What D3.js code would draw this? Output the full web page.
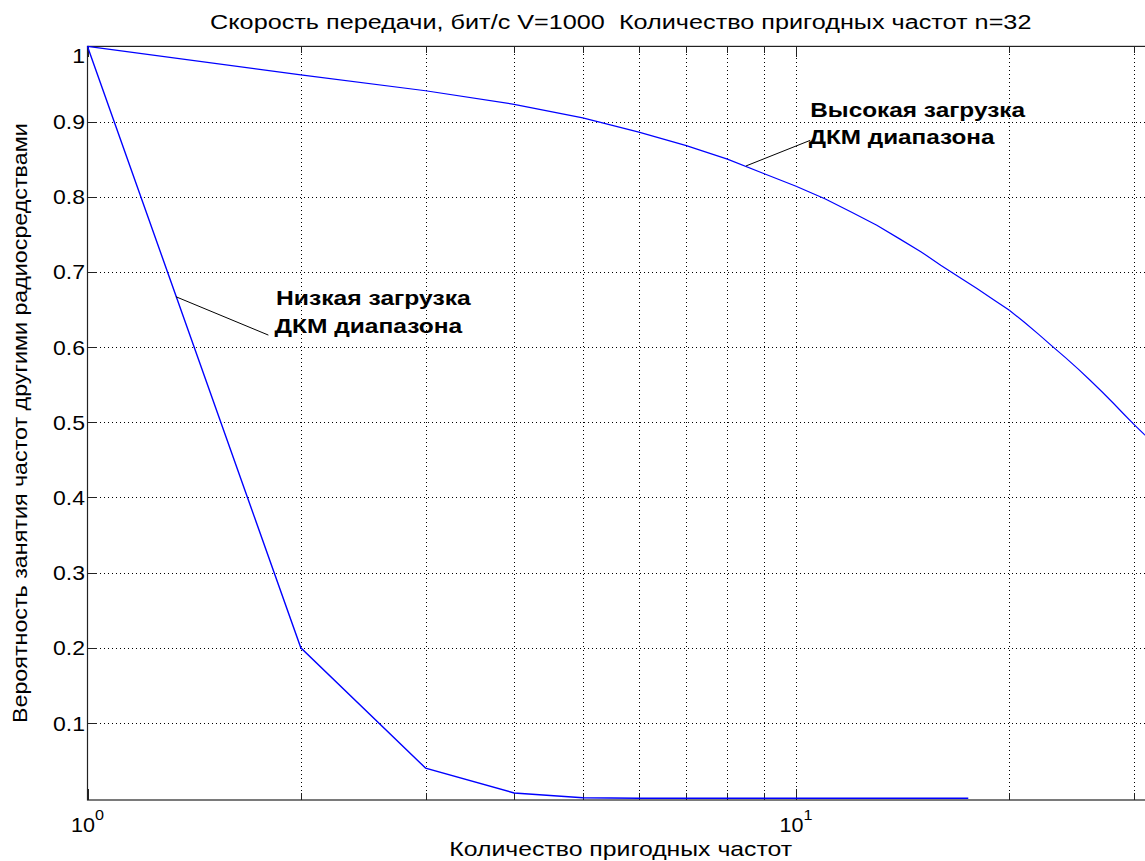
<!DOCTYPE html>
<html>
<head>
<meta charset="utf-8">
<script src="https://cdn.jsdelivr.net/npm/d3@7"></script>
<style>
  html, body { margin: 0; padding: 0; background: #fff; overflow: hidden; }
  svg { display: block; font-family: "Liberation Sans", Arial, sans-serif; }
  text { white-space: pre; }
</style>
</head>
<body>
<svg id="chart" width="1145" height="861"></svg>
<script>
// Number of usable frequencies (x) for both load scenarios
const freqHigh = [1, 2, 3, 4, 5, 6, 7, 8, 9, 10, 11, 12, 13, 14, 15, 16,
                  17, 18, 19, 20, 21, 22, 23, 24, 25, 26, 27, 28, 29, 30, 31, 32];
// Probability that a frequency is occupied — high HF band load
const probHigh = [1.000, 0.962, 0.941, 0.923, 0.905, 0.886, 0.868, 0.850, 0.831, 0.814,
                  0.797, 0.779, 0.762, 0.744, 0.727, 0.709, 0.693, 0.678, 0.663, 0.649,
                  0.633, 0.617, 0.601, 0.586, 0.571, 0.556, 0.541, 0.526, 0.511, 0.497,
                  0.484, 0.472];
// Low HF band load
const freqLow = [1, 2, 3, 4, 5, 6, 7, 8, 9, 10, 11, 12, 13, 14, 15, 16, 17, 17.5];
const probLow = [1.000, 0.200, 0.040, 0.007, 0.0005, 0, 0, 0, 0, 0,
                 0, 0, 0, 0, 0, 0, 0, 0];

const xMajor = [1, 10];
const xMinor = [2, 3, 4, 5, 6, 7, 8, 9, 20, 30];
const yTicks = [0.1, 0.2, 0.3, 0.4, 0.5, 0.6, 0.7, 0.8, 0.9, 1];
const yTickLabels = ["0.1", "0.2", "0.3", "0.4", "0.5", "0.6", "0.7", "0.8", "0.9", "1"];

const titleText = "Скорость передачи, бит/с V=1000  Количество пригодных частот n=32";
const xLabel = "Количество пригодных частот";
const yLabel = "Вероятность занятия частот другими радиосредствами";

// Callouts: leader line from curve point to text anchor; text lines with their widths
const callouts = [
  { lines: ["Низкая загрузка", "ДКМ диапазона"], widths: [196, 189],
    from: [1.333, 0.667], to: [1.80, 0.616], text: [1.845, 0.6557] },
  { lines: ["Высокая загрузка", "ДКМ диапазона"], widths: [216, 187],
    from: [8.50, 0.841], to: [10.47, 0.875], text: [10.47, 0.9067] }
];

const svg = d3.select("#chart");
const plotL = 87.5, plotR = 1154, plotT = 46.4, plotB = 800;

const x = d3.scaleLog().domain([1, 32]).range([plotL, plotR]);
const y = d3.scaleLinear().domain([-0.0024, 1]).range([plotB, plotT]);

// Draws a string whose glyphs are widened horizontally (wide screen font look)
function wideText(parent, str, px, py, opts) {
  const g = parent.append("g");
  const t = g.append("text")
    .attr("font-size", opts.size || 20)
    .attr("font-weight", opts.bold ? "bold" : "normal")
    .attr("text-anchor", opts.anchor || "start")
    .attr("fill", "#000")
    .text(str);
  const w = t.node().getBBox().width;
  const sx = opts.width ? opts.width / w : (opts.stretch || 1.2);
  g.attr("transform", `translate(${px},${py})${opts.rotate ? " rotate(" + opts.rotate + ")" : ""} scale(${sx},1)`);
  return t;
}

// Dotted grid
const grid = svg.append("g").attr("stroke", "#000").attr("stroke-width", 1)
  .attr("stroke-dasharray", "1,3").attr("shape-rendering", "crispEdges");
grid.selectAll("line.gx").data(xMajor.concat(xMinor).filter(d => d > 1)).join("line")
  .attr("class", "gx")
  .attr("x1", d => Math.round(x(d)) + 0.5).attr("x2", d => Math.round(x(d)) + 0.5)
  .attr("y1", plotT).attr("y2", plotB);
grid.selectAll("line.gy").data(yTicks.filter(d => d < 1)).join("line")
  .attr("class", "gy")
  .attr("x1", plotL).attr("x2", plotR)
  .attr("y1", d => Math.round(y(d)) + 0.5).attr("y2", d => Math.round(y(d)) + 0.5);

// Axes with inward ticks (bottom/top/left)
const axisG = svg.append("g");
const xAxisBottomMajor = d3.axisBottom(x).tickValues(xMajor).tickSize(-11).tickFormat("");
const xAxisBottomMinor = d3.axisBottom(x).tickValues(xMinor).tickSize(-7).tickFormat("");
const xAxisTopMajor = d3.axisTop(x).tickValues(xMajor).tickSize(-11).tickFormat("");
const xAxisTopMinor = d3.axisTop(x).tickValues(xMinor).tickSize(-7).tickFormat("");
const yAxisLeft = d3.axisLeft(y).tickValues(yTicks).tickSize(-9).tickFormat("");

[xAxisBottomMajor, xAxisBottomMinor].forEach(a =>
  axisG.append("g").attr("transform", `translate(0,${plotB})`).call(a));
[xAxisTopMajor, xAxisTopMinor].forEach(a =>
  axisG.append("g").attr("transform", `translate(0,${plotT})`).call(a));
axisG.append("g").attr("transform", `translate(${plotL},0)`).call(yAxisLeft);
axisG.selectAll(".domain").remove();
axisG.selectAll("line").attr("stroke", "#222").attr("shape-rendering", "crispEdges");

// Frame
svg.append("rect").attr("x", plotL).attr("y", plotT)
  .attr("width", plotR - plotL).attr("height", plotB - plotT)
  .attr("fill", "none").attr("stroke", "#222").attr("stroke-width", 1.2);

// Curves
const line = d3.line().x(d => x(d[0])).y(d => y(d[1]));
svg.append("path").datum(freqHigh.map((f, i) => [f, probHigh[i]]))
  .attr("d", line).attr("fill", "none").attr("stroke", "#0000ff").attr("stroke-width", 1.2);
svg.append("path").datum(freqLow.map((f, i) => [f, probLow[i]]))
  .attr("d", line).attr("fill", "none").attr("stroke", "#0000ff").attr("stroke-width", 1.4);

// Y tick labels (the top one sits just under the frame edge)
yTicks.forEach((v, i) => {
  const py = v === 1 ? y(v) + 17 : y(v) + 7.5;
  wideText(svg, yTickLabels[i], 85, py, { anchor: "end", stretch: 1.15 });
});

// X tick labels: 10 with superscript exponent
xMajor.forEach(v => {
  const t = wideText(svg, "10", x(v), 832, { anchor: "middle", stretch: 1 });
  t.append("tspan").attr("font-size", 15).attr("dy", -12).text(String(Math.round(Math.log10(v))));
  const w = t.node().getBBox().width;
  t.node().parentNode.setAttribute("transform", `translate(${x(v)},832) scale(${33 / w},1)`);
});

// Title and axis labels
const midX = (plotL + plotR) / 2;
wideText(svg, titleText, midX, 29, { anchor: "middle", width: 822 });
wideText(svg, xLabel, midX, 856, { anchor: "middle", width: 343 });
wideText(svg, yLabel, 27, (plotT + plotB) / 2, { anchor: "middle", rotate: -90, width: 600 });

// Callouts
callouts.forEach(c => {
  svg.append("line")
    .attr("x1", x(c.from[0])).attr("y1", y(c.from[1]))
    .attr("x2", x(c.to[0])).attr("y2", y(c.to[1]))
    .attr("stroke", "#000").attr("stroke-width", 1);
  c.lines.forEach((s, i) => wideText(svg, s, x(c.text[0]) - (i ? 1.5 : 0),
    y(c.text[1]) + i * 27.6, { bold: true, width: c.widths[i] }));
});
</script>
</body>
</html>
